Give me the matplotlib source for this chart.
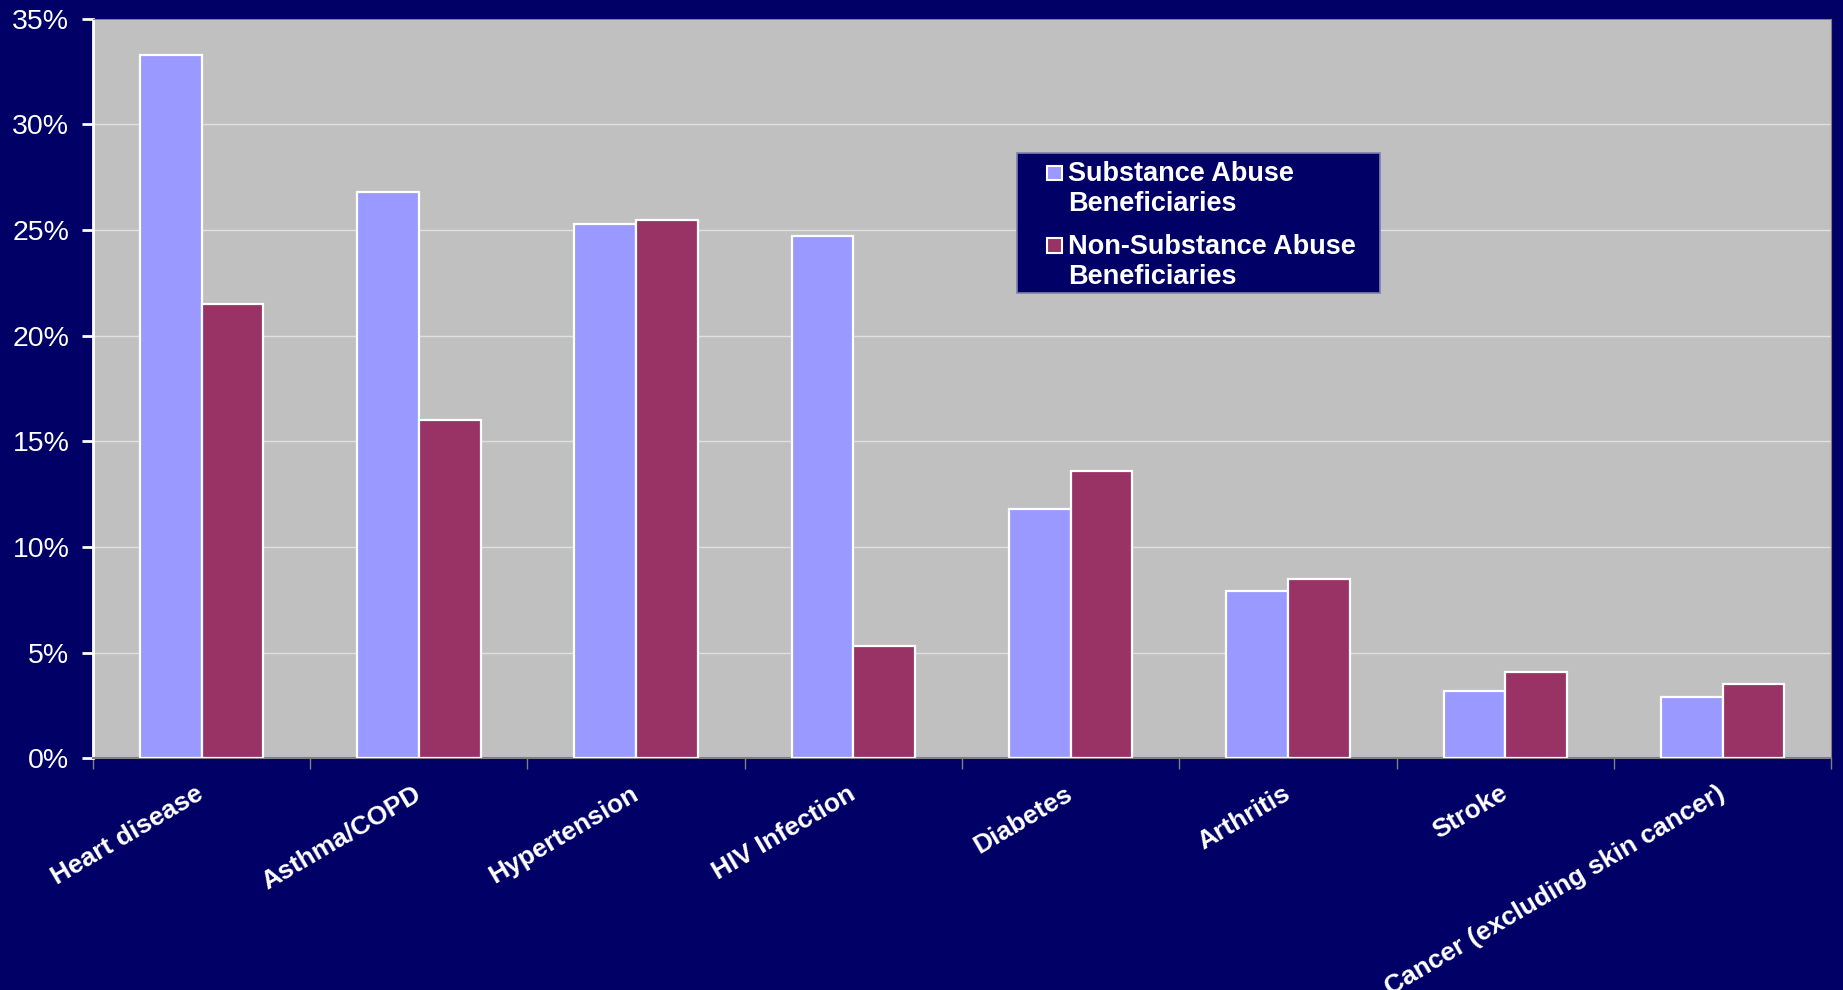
import numpy as np
import matplotlib
matplotlib.use('Agg')
import matplotlib.pyplot as plt
from matplotlib.patches import Rectangle
from matplotlib.legend_handler import HandlerPatch

# data
categories = ['Heart disease', 'Asthma/COPD', 'Hypertension', 'HIV Infection',
              'Diabetes', 'Arthritis', 'Stroke', 'Cancer (excluding skin cancer)']
substance = [33.3, 26.8, 25.3, 24.7, 11.8, 7.9, 3.2, 2.9]
non_substance = [21.5, 16.0, 25.5, 5.3, 13.6, 8.5, 4.1, 3.5]
series_names = ['Substance Abuse\nBeneficiaries', 'Non-Substance Abuse\nBeneficiaries']
yticks = [0, 5, 10, 15, 20, 25, 30, 35]

navy = '#000066'
fs = 19.5
plt.rcParams['font.family'] = ['Liberation Sans', 'DejaVu Sans']


def top_square(legend, orig_handle, xdescent, ydescent, width, height, fontsize):
	# small square lined up with the first line of a two-line label
	s = width
	return Rectangle((-xdescent, 0.69 * fontsize), s, s)


fig = plt.figure(figsize=(18.43, 9.9), dpi=100, facecolor=navy)
ax = fig.add_axes([0.0504, 0.234, 0.9432, 0.747])
ax.set_facecolor('#c0c0c0')

x = np.arange(len(categories))
w = 0.284
b1 = ax.bar(x - w / 2, substance, w, color='#9999ff', edgecolor='white', linewidth=1.6,
            label=series_names[0], zorder=3)
b2 = ax.bar(x + w / 2, non_substance, w, color='#993366', edgecolor='white', linewidth=1.6,
            label=series_names[1], zorder=3)

ax.set_xlim(-0.5, len(categories) - 0.5)
ax.set_ylim(0, 35)
ax.set_yticks(yticks)
ax.set_yticklabels([f'{t}%' for t in yticks], color='white', fontsize=20.5)
ax.yaxis.grid(True, color='#e0e0e0', linewidth=1.0, zorder=0)
ax.set_axisbelow(True)

ax.set_xticks(x)
ax.set_xticklabels(categories, rotation=30.5, ha='right', va='center',
                   rotation_mode='anchor', color='white', fontsize=19, fontweight='bold')
ax.tick_params(axis='x', length=0, pad=24)
ax.set_xticks(np.arange(len(categories) + 1) - 0.5, minor=True)
ax.tick_params(axis='x', which='minor', length=8, color='#808080', width=1)
ax.tick_params(axis='y', length=8, color='white', width=2, pad=9)

for side in ['top', 'right']:
	ax.spines[side].set_color('#808080')
ax.spines['bottom'].set_color('#808080')
ax.spines['bottom'].set_linewidth(1.5)
ax.spines['left'].set_color('white')
ax.spines['left'].set_linewidth(2)

# legend box
ax.add_patch(Rectangle((0.5315, 0.6296), 0.2089, 0.1891, transform=ax.transAxes,
                       facecolor=navy, edgecolor='#8080b0', linewidth=1.2, zorder=5))
leg = ax.legend([b1.patches[0], b2.patches[0]], series_names,
                loc='upper left', bbox_to_anchor=(0.549, 0.8076), borderaxespad=0,
                borderpad=0, frameon=False, handlelength=0.55, handleheight=0.7,
                handletextpad=0.22, labelspacing=0.62,
                handler_map={Rectangle: HandlerPatch(patch_func=top_square)},
                prop={'size': fs, 'weight': 'bold'})
leg.set_zorder(6)
for t in leg.get_texts():
	t.set_color('white')
for p in leg.get_patches():
	p.set_edgecolor('white')
	p.set_linewidth(1.5)

fig.savefig('out.png', dpi=100, facecolor=navy)
